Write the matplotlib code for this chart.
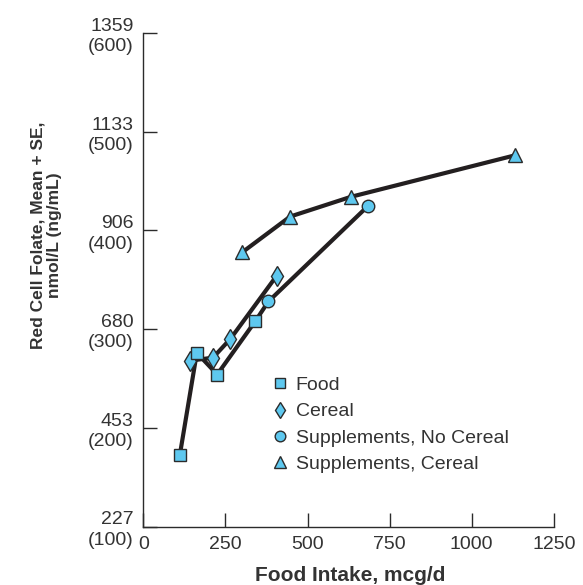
import matplotlib
matplotlib.use("Agg")
import matplotlib.pyplot as plt

plt.rcParams["font.family"] = ["Liberation Sans", "DejaVu Sans"]

# intake (mcg/d) vs red cell folate (ng/mL)
food_x = [111, 163, 225, 341]
food_y = [172, 276, 254, 308]
cereal_x = [141, 212, 265, 406]
cereal_y = [268, 271, 290, 354]
supp_x = [381, 685]
supp_y = [328, 425]
supp_cereal_x = [302, 447, 632, 1131]
supp_cereal_y = [378, 414, 434, 476]

y_ticks = [100, 200, 300, 400, 500, 600]
y_tick_nmol = [227, 453, 680, 906, 1133, 1359]
x_ticks = [0, 250, 500, 750, 1000, 1250]

FILL = "#5ec8ef"
EDGE = "#2b2b2b"
LINE = "#231f20"
TXT = "#333333"

fig = plt.figure(figsize=(5.83, 5.85), dpi=100)
ax = fig.add_axes([0.2458, 0.1, 0.7042, 0.8436])

mk = dict(markerfacecolor=FILL, markeredgecolor=EDGE, markeredgewidth=1.0)

# connecting lines; the food curve runs on into the supplement points
ax.plot(food_x + supp_x, food_y + supp_y, color=LINE, lw=3, zorder=2)
ax.plot(cereal_x, cereal_y, color=LINE, lw=3, zorder=2)
ax.plot(supp_cereal_x, supp_cereal_y, color=LINE, lw=3, zorder=2)

ax.plot(cereal_x, cereal_y, ls="none", marker="d", ms=10, zorder=3, label="Cereal", **mk)
ax.plot(food_x, food_y, ls="none", marker="s", ms=9, zorder=4, label="Food", **mk)
ax.plot(supp_x, supp_y, ls="none", marker="o", ms=9, zorder=3, label="Supplements, No Cereal", **mk)
ax.plot(supp_cereal_x, supp_cereal_y, ls="none", marker="^", ms=9.5, zorder=3,
        label="Supplements, Cereal", **mk)

ax.set_xlim(0, 1250)
ax.set_ylim(100, 600)
ax.tick_params(axis="both", which="major", direction="in", length=10, width=1.0,
               color=EDGE, labelsize=14, labelcolor=TXT, pad=7)
ax.set_xticks(x_ticks)
ax.set_xticklabels([str(v) for v in x_ticks])
ax.set_yticks(y_ticks)
ax.set_yticklabels([f"{n}\n({v})" for n, v in zip(y_tick_nmol, y_ticks)],
                   linespacing=1.25)
for side in ("top", "right"):
    ax.spines[side].set_visible(False)
for side in ("left", "bottom"):
    ax.spines[side].set_color(EDGE)
    ax.spines[side].set_linewidth(1.0)

ax.set_xlabel("Food Intake, mcg/d", fontsize=15, fontweight="bold", color=TXT)
ax.xaxis.set_label_coords(0.503, -0.08)
ax.set_ylabel("Red Cell Folate, Mean + SE,\nnmol/L (ng/mL)", fontsize=12.5,
              fontweight="bold", color=TXT, linespacing=1.15)
ax.yaxis.set_label_coords(-0.198, 0.59)

handles, labels = ax.get_legend_handles_labels()
order = [1, 0, 2, 3]
leg = ax.legend([handles[i] for i in order], [labels[i] for i in order],
                loc="upper left", bbox_to_anchor=(0.3, 0.32), frameon=False,
                fontsize=14, handlelength=0.6, handletextpad=0.5,
                labelspacing=0.45, markerscale=0.85, borderaxespad=0)
for t in leg.get_texts():
    t.set_color(TXT)

fig.savefig("out.png", dpi=100)
